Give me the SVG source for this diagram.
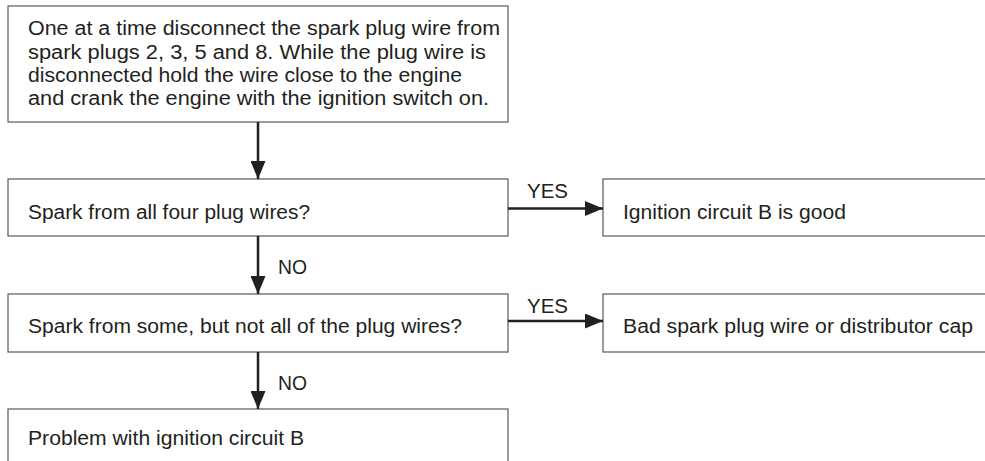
<svg xmlns="http://www.w3.org/2000/svg" width="985" height="461" viewBox="0 0 985 461">
<style>
.box{fill:#fff;stroke:#58595b;stroke-width:1.2}
.t{font-family:"Liberation Sans",Arial,sans-serif;font-size:19.5px;fill:#231f20}
.c{stroke:#231f20;stroke-width:2.5;fill:none}
</style>
<defs>
<marker id="ah" viewBox="0 0 18 15" refX="18" refY="7.5" markerWidth="18" markerHeight="15" markerUnits="userSpaceOnUse" orient="auto">
<path d="M0,0 L18,7.5 L0,15 Z" fill="#231f20"/>
</marker>
</defs>
<rect width="985" height="461" fill="#fff"/>
<g id="n1">
<rect class="box" x="8" y="6" width="500" height="116"/>
<text class="t" x="28" y="35" textLength="472" lengthAdjust="spacingAndGlyphs">One at a time disconnect the spark plug wire from</text>
<text class="t" x="28" y="58.5" textLength="458" lengthAdjust="spacingAndGlyphs">spark plugs 2, 3, 5 and 8. While the plug wire is</text>
<text class="t" x="28" y="82" textLength="434" lengthAdjust="spacingAndGlyphs">disconnected hold the wire close to the engine</text>
<text class="t" x="28" y="105" textLength="461" lengthAdjust="spacingAndGlyphs">and crank the engine with the ignition switch on.</text>
</g>
<g id="n2">
<rect class="box" x="8" y="179" width="500" height="57"/>
<text class="t" x="28" y="218.5" textLength="282" lengthAdjust="spacingAndGlyphs">Spark from all four plug wires?</text>
</g>
<g id="n3">
<rect class="box" x="603" y="179" width="390" height="57"/>
<text class="t" x="623" y="218.5" textLength="223" lengthAdjust="spacingAndGlyphs">Ignition circuit B is good</text>
</g>
<g id="n4">
<rect class="box" x="8" y="294" width="500" height="58"/>
<text class="t" x="28" y="333" textLength="434" lengthAdjust="spacingAndGlyphs">Spark from some, but not all of the plug wires?</text>
</g>
<g id="n5">
<rect class="box" x="603" y="294" width="390" height="58"/>
<text class="t" x="623" y="333" textLength="350" lengthAdjust="spacingAndGlyphs">Bad spark plug wire or distributor cap</text>
</g>
<g id="n6">
<rect class="box" x="8" y="409" width="500" height="60"/>
<text class="t" x="28" y="445" textLength="276" lengthAdjust="spacingAndGlyphs">Problem with ignition circuit B</text>
</g>
<g id="connectors">
<line class="c" x1="258" y1="122" x2="258" y2="179" marker-end="url(#ah)"/>
<line class="c" x1="508" y1="208.5" x2="603" y2="208.5" marker-end="url(#ah)"/>
<line class="c" x1="258" y1="236" x2="258" y2="294" marker-end="url(#ah)"/>
<line class="c" x1="508" y1="321" x2="603" y2="321" marker-end="url(#ah)"/>
<line class="c" x1="258" y1="352" x2="258" y2="409" marker-end="url(#ah)"/>
<text class="t" x="527" y="198" textLength="41" lengthAdjust="spacingAndGlyphs">YES</text>
<text class="t" x="278" y="274" textLength="29" lengthAdjust="spacingAndGlyphs">NO</text>
<text class="t" x="527" y="313" textLength="41" lengthAdjust="spacingAndGlyphs">YES</text>
<text class="t" x="278" y="389.5" textLength="29" lengthAdjust="spacingAndGlyphs">NO</text>
</g>
</svg>
